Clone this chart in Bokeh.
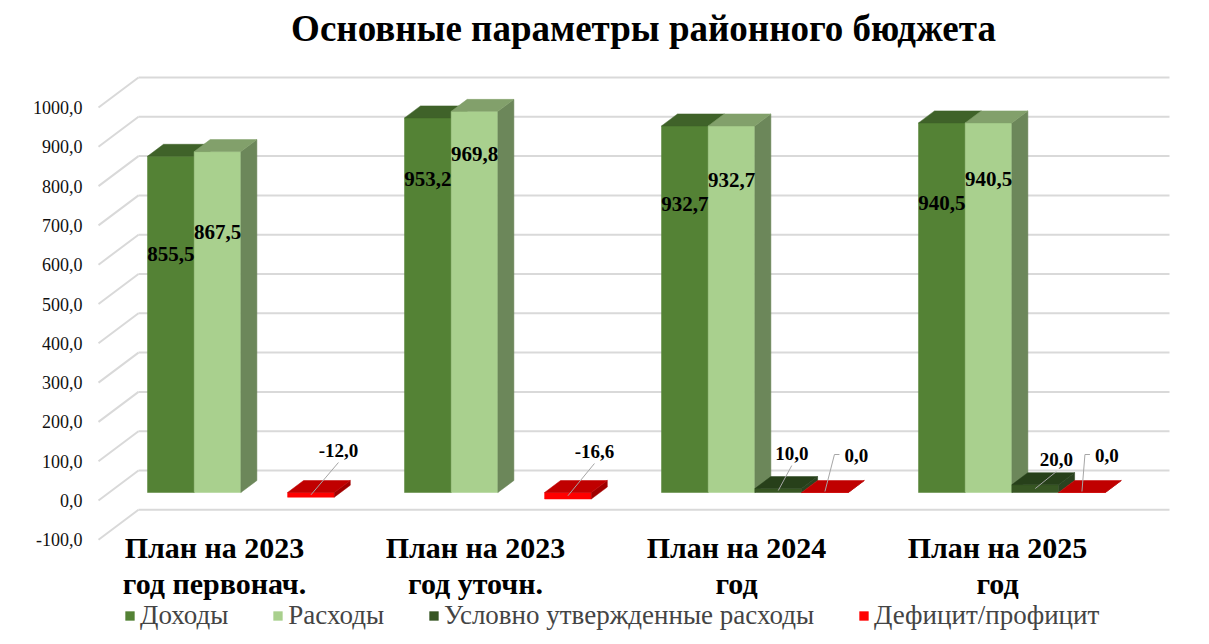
from bokeh.plotting import figure
from bokeh.models import Range1d, FixedTicker, CustomJSTickFormatter, Legend, LegendItem
from bokeh.core.properties import value
from bokeh.embed import file_html
from bokeh.resources import INLINE

# ---------------- data ----------------
title_text = "Основные параметры районного бюджета"
categories = ["План на 2023\nгод первонач.", "План на 2023\nгод уточн.",
              "План на 2024\nгод", "План на 2025\nгод"]
series_names = ["Доходы", "Расходы", "Условно утвержденные расходы", "Дефицит/профицит"]
dohody = [855.5, 953.2, 932.7, 940.5]
rashody = [867.5, 969.8, 932.7, 940.5]
uslovno = [None, None, 10.0, 20.0]
deficit = [-12.0, -16.6, 0.0, 0.0]
y_ticks = [-100, 0, 100, 200, 300, 400, 500, 600, 700, 800, 900, 1000]

# ---------------- styles / layout ----------------
front_colors = ["#548235", "#A9D08E", "#375623", "#FF0000"]
top_colors = ["#3F6229", "#82A06B", "#27401A", "#C00000"]
side_colors = ["#45692D", "#6C875A", "#2B4320", "#A00000"]
FONT = "Liberation Serif"

W, H = 1209, 644
FRAME_LEFT = 95
Y0 = 500.0          # screen y of value 0 on the front plane
K = 0.393           # pixels per value unit


def val_of(py):
    return (Y0 - py) / K


def dval(px):
    return px / K


WALL_X0, WALL_X1, WALL_DX, WALL_DY = 98, 1169, 40, 30
X0, STEP, BW = 147, 257, 46.7
LIFT, BDX, BDY = dval(8), 16, dval(12)

# label layout (screen px) for the tall bars and offsets for the small ones
big_label_py = [[253, 178, 203, 202], [231, 153, 179, 178]]
small_label_off = {
    (3, 0): (27.5, -42, "diag"), (3, 1): (26.5, -41, "diag"),
    (2, 2): (13.5, -35, "diag"), (3, 2): (31.5, -37, "hook"),
    (2, 3): (21, -25, "diag"), (3, 3): (25, -37, "hook"),
}


def fmt(v):
    return f"{v:.1f}".replace(".", ",")


p = figure(width=W, height=H, x_range=Range1d(FRAME_LEFT, W),
           y_range=Range1d(val_of(H), val_of(0)),
           output_backend="svg", toolbar_location=None,
           x_axis_location=None, y_axis_location="left",
           min_border_left=FRAME_LEFT, min_border_right=0,
           min_border_top=0, min_border_bottom=0)
p.outline_line_color = None
p.grid.visible = False
p.background_fill_color = "white"

ax = p.yaxis[0]
ax.ticker = FixedTicker(ticks=y_ticks)
ax.formatter = CustomJSTickFormatter(code="return tick.toFixed(1).replace('.', ',');")
ax.axis_line_color = None
ax.major_tick_line_color = None
ax.minor_tick_line_color = None
ax.major_label_standoff = 7
ax.major_label_text_font = FONT
ax.major_label_text_font_size = "18px"
ax.major_label_text_color = "#111111"

# walls (gridlines)
back_y = [t + dval(WALL_DY) for t in y_ticks]
p.segment(x0=[WALL_X0 + WALL_DX] * len(y_ticks), x1=[WALL_X1] * len(y_ticks),
          y0=back_y, y1=back_y, line_color="#D9D9D9", line_width=2)
p.segment(x0=[WALL_X0] * len(y_ticks), x1=[WALL_X0 + WALL_DX] * len(y_ticks),
          y0=y_ticks, y1=back_y, line_color="#D9D9D9", line_width=2)

# bars
series = [dohody, rashody, uslovno, deficit]
legend_items = []
for j, vals in enumerate(series):
    lefts, rights, bottoms, tops = [], [], [], []
    txs, tys, sxs, sys_ = [], [], [], []
    for i, v in enumerate(vals):
        if v is None:
            continue
        x = X0 + i * STEP + j * BW
        lo, hi = min(0.0, v) + LIFT, max(0.0, v) + LIFT
        lefts.append(x); rights.append(x + BW); bottoms.append(lo); tops.append(hi)
        txs.append([x, x + BW, x + BW + BDX, x + BDX])
        tys.append([hi, hi, hi + BDY, hi + BDY])
        sxs.append([x + BW, x + BW, x + BW + BDX, x + BW + BDX])
        sys_.append([lo, hi, hi + BDY, lo + BDY])
    r = p.quad(left=lefts, right=rights, bottom=bottoms, top=tops,
               fill_color=front_colors[j], line_color=front_colors[j], line_width=0.5)
    p.patches(xs=sxs, ys=sys_, fill_color=side_colors[j], line_color=side_colors[j], line_width=0.5)
    p.patches(xs=txs, ys=tys, fill_color=top_colors[j], line_color=top_colors[j], line_width=0.5)
    legend_items.append(LegendItem(label=series_names[j], renderers=[r]))

# labels on tall bars
for j in (0, 1):
    xs = [X0 + i * STEP + j * BW + BW / 2 for i in range(len(series[j]))]
    ys = [val_of(py) for py in big_label_py[j]]
    p.text(x=xs, y=ys, text=[fmt(v) for v in series[j]], text_font=value(FONT),
           text_font_style="bold", text_font_size="21px", text_align="center",
           text_baseline="middle", text_color="black")

# labels on small bars with leader lines
lx, ly, lt, lead_x, lead_y = [], [], [], [], []
for (j, i), (dx, dy, kind) in small_label_off.items():
    v = series[j][i]
    cx = X0 + i * STEP + j * BW + BW / 2
    top_py = Y0 - (max(0.0, v) + LIFT) * K
    bot_py = Y0 - (min(0.0, v) + LIFT) * K
    px_, py_ = cx + dx, top_py + dy
    lx.append(px_); ly.append(val_of(py_)); lt.append(fmt(v))
    if kind == "diag":
        lead_x.append([px_, cx]); lead_y.append([val_of(py_ + 12), val_of((top_py + bot_py) / 2)])
    else:
        lead_x.append([px_ - 17, px_ - 22, cx])
        lead_y.append([val_of(py_ - 1), val_of(py_ - 1), val_of(top_py - 1)])
p.multi_line(xs=lead_x, ys=lead_y, line_color="#A6A6A6", line_width=1)
p.text(x=lx, y=ly, text=lt, text_font=value(FONT), text_font_style="bold",
       text_font_size="19px", text_align="center", text_baseline="middle", text_color="black")

# category labels
cat_x = [214 + i * 261 for i in range(len(categories))]
for k, py in enumerate((547, 583)):
    p.text(x=cat_x, y=[val_of(py)] * len(categories),
           text=[c.split("\n")[k] for c in categories], text_font=value(FONT),
           text_font_style="bold", text_font_size="30px", text_align="center",
           text_baseline="alphabetic", text_color="black")

# title
p.text(x=[643], y=[val_of(28)], text=[title_text], text_font=value(FONT),
       text_font_style="bold", text_font_size="37px", text_align="center",
       text_baseline="middle", text_color="black")

legend = Legend(items=legend_items, orientation="horizontal", location=(124 - FRAME_LEFT, 13),
                glyph_width=11, glyph_height=11, label_standoff=5, spacing=44,
                label_text_font=FONT, label_text_font_size="27px", label_height=26,
                padding=0, margin=0, border_line_color=None, background_fill_alpha=0)
p.add_layout(legend)

open("out.html", "w").write(file_html(p, INLINE))
